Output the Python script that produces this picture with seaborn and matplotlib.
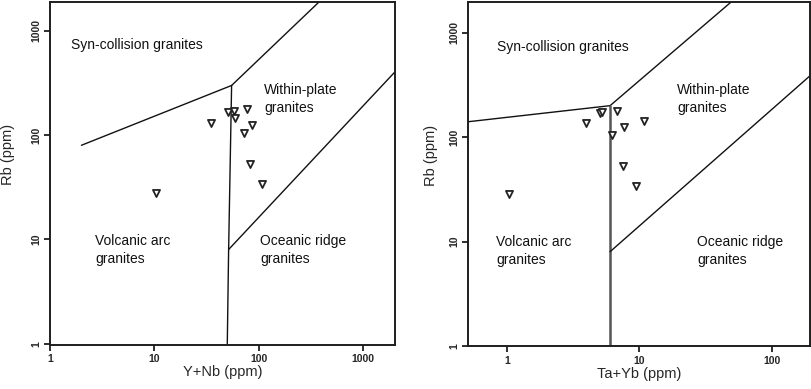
import matplotlib
matplotlib.use("Agg")
import matplotlib.pyplot as plt
from matplotlib.ticker import FixedLocator, FixedFormatter, NullLocator
import seaborn as sns
import pandas as pd

# ---- data -----------------------------------------------------------------
ynb = [50.6, 58.1, 59.4, 76.9, 35.0, 87.0, 72.4, 82.7, 108.0, 10.4]
rb_left = [167, 171, 145, 178, 132, 125, 104, 53.4, 34.3, 28.1]

tayb = [5.0, 5.2, 10.9, 6.73, 3.95, 7.64, 6.2, 7.5, 9.36, 1.03]
rb_right = [170, 175, 142, 177, 135, 125, 105, 53.2, 34.0, 28.7]

# Pearce et al. (1984) discrimination boundaries
ynb_syn_vag_x = [2, 55]
ynb_syn_vag_y = [80, 300]
ynb_wpg_syn_x = [55, 400]
ynb_wpg_syn_y = [300, 2000]
ynb_vag_wpg_x = [55, 51.5, 50]
ynb_vag_wpg_y = [300, 8, 1]
ynb_org_wpg_x = [51.5, 2000]
ynb_org_wpg_y = [8, 400]

tayb_syn_vag_x = [0.5, 6]
tayb_syn_vag_y = [140, 200]
tayb_wpg_syn_x = [6, 50]
tayb_wpg_syn_y = [200, 2000]
tayb_vag_wpg_x = [6, 6]
tayb_vag_wpg_y = [200, 1]
tayb_org_wpg_x = [6, 200]
tayb_org_wpg_y = [8, 400]

y_ticks = [1, 10, 100, 1000]
y_tick_labels = ["1", "10", "100", "1000"]
x_ticks_left = [1, 10, 100, 1000]
x_tick_labels_left = ["1", "10", "100", "1000"]
x_ticks_right = [1, 10, 100]
x_tick_labels_right = ["1", "10", "100"]

field_labels = ["Syn-collision granites", "Within-plate\ngranites",
                "Volcanic arc\ngranites", "Oceanic ridge\ngranites"]

df_left = pd.DataFrame({"x": ynb, "Rb": rb_left})
df_right = pd.DataFrame({"x": tayb, "Rb": rb_right})

# ---- style ----------------------------------------------------------------
sns.set_style("white")
plt.rcParams["font.family"] = ["Liberation Sans", "DejaVu Sans"]

fig = plt.figure(figsize=(8.12, 3.89), dpi=100)
ax1 = fig.add_axes([0.0616, 0.1131, 0.425, 0.882])
ax2 = fig.add_axes([0.5764, 0.1093, 0.4212, 0.886])

edge = "#1e1e1e"


def style_axes(ax, xticks, xlabels, xlabel, ylab_x):
    ax.set_xscale("log")
    ax.set_yscale("log")
    for s in ax.spines.values():
        s.set_color(edge)
        s.set_linewidth(1.4)
        s.set_visible(True)
    ax.xaxis.set_major_locator(FixedLocator(xticks))
    ax.xaxis.set_major_formatter(FixedFormatter(xlabels))
    ax.yaxis.set_major_locator(FixedLocator(y_ticks))
    ax.yaxis.set_major_formatter(FixedFormatter(y_tick_labels))
    ax.xaxis.set_minor_locator(NullLocator())
    ax.yaxis.set_minor_locator(NullLocator())
    ax.tick_params(axis="both", which="major", direction="out", length=4.5,
                   width=1.3, color=edge, bottom=True, left=True,
                   top=False, right=False, labelsize=7.5, pad=2)
    for lab in ax.get_xticklabels():
        lab.set_fontweight("bold")
    for lab in ax.get_yticklabels():
        lab.set_fontweight("bold")
        lab.set_rotation(90)
        lab.set_va("center")
    ax.set_xlabel(xlabel, fontsize=10.5, labelpad=1)
    ax.set_ylabel("Rb (ppm)", fontsize=10.5)
    ax.yaxis.set_label_coords(ylab_x, 0.554)


# ---- left panel -----------------------------------------------------------
lk = dict(color="#111111", lw=1.0)
ax1.plot(ynb_syn_vag_x, ynb_syn_vag_y, **lk)
ax1.plot(ynb_wpg_syn_x, ynb_wpg_syn_y, **lk)
ax1.plot(ynb_vag_wpg_x, ynb_vag_wpg_y, **lk)
ax1.plot(ynb_org_wpg_x, ynb_org_wpg_y, **lk)
sns.scatterplot(data=df_left, x="x", y="Rb", ax=ax1, marker="v", s=26,
                facecolor="white", edgecolor="#222222", linewidth=1.3,
                legend=False, zorder=3)
ax1.set_xlim(1, 2030)
ax1.set_ylim(0.97, 1900)
style_axes(ax1, x_ticks_left, x_tick_labels_left, "Y+Nb (ppm)", -0.101)

tk = dict(transform=ax1.transAxes, fontsize=10, va="center", ha="left",
          linespacing=1.35, color="#111111")
ax1.text(0.061, 0.875, field_labels[0], **tk)
ax1.text(0.62, 0.717, field_labels[1], **tk)
ax1.text(0.130, 0.277, field_labels[2], **tk)
ax1.text(0.609, 0.277, field_labels[3], **tk)

# ---- right panel ----------------------------------------------------------
ax2.plot(tayb_syn_vag_x, tayb_syn_vag_y, **lk)
ax2.plot(tayb_wpg_syn_x, tayb_wpg_syn_y, **lk)
ax2.plot(tayb_vag_wpg_x, tayb_vag_wpg_y, color="#555555", lw=1.8)
ax2.plot(tayb_org_wpg_x, tayb_org_wpg_y, **lk)
sns.scatterplot(data=df_right, x="x", y="Rb", ax=ax2, marker="v", s=26,
                facecolor="white", edgecolor="#222222", linewidth=1.3,
                legend=False, zorder=3)
ax2.set_xlim(0.508, 194)
ax2.set_ylim(0.99, 1973)
style_axes(ax2, x_ticks_right, x_tick_labels_right, "Ta+Yb (ppm)", -0.088)

tk2 = dict(tk, transform=ax2.transAxes)
ax2.text(0.085, 0.869, field_labels[0], **tk2)
ax2.text(0.611, 0.717, field_labels[1], **tk2)
ax2.text(0.082, 0.277, field_labels[2], **tk2)
ax2.text(0.67, 0.277, field_labels[3], **tk2)

fig.savefig("out.png", dpi=100)
